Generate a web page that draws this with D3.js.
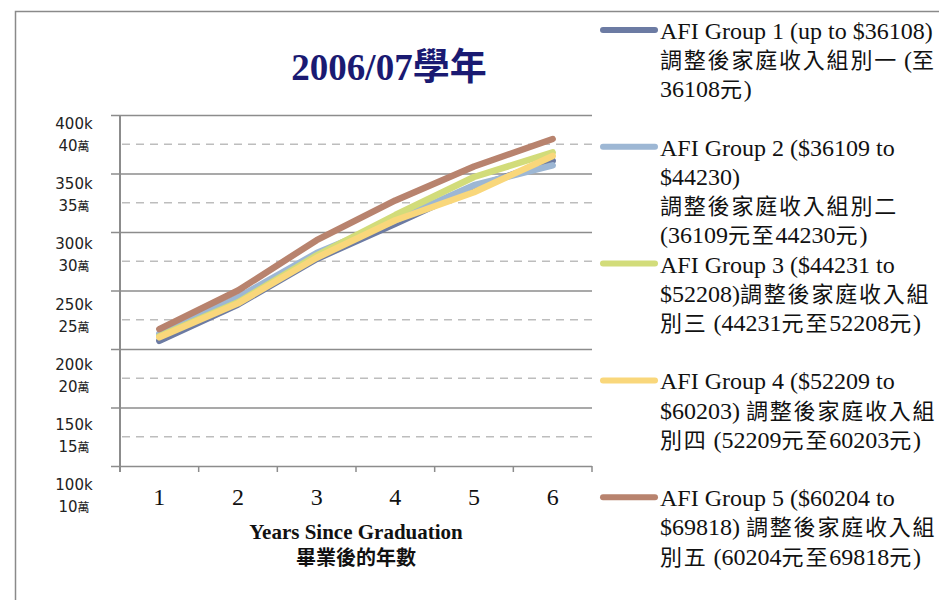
<!DOCTYPE html>
<html>
<head>
<meta charset="utf-8">
<script src="https://cdn.jsdelivr.net/npm/d3@7"></script>
<style>
  html, body { margin: 0; padding: 0; background: #fff; }
  svg { display: block; }
</style>
</head>
<body>
<svg id="chart" width="939" height="600"></svg>
<script>
// ---- Data ----
const categories = [1, 2, 3, 4, 5, 6];
const group1 = [207000, 238000, 277000, 307000, 338000, 361000];
const group2 = [213000, 244000, 282000, 310000, 340000, 357000];
const group3 = [211000, 240000, 280000, 314500, 347000, 368000];
const group4 = [210000, 239000, 278000, 310000, 334000, 365000];
const group5 = [217000, 250000, 293000, 327000, 356000, 379500];
const yTickValues = [400000, 350000, 300000, 250000, 200000, 150000, 100000];
const yTickLabelsEn = ["400k", "350k", "300k", "250k", "200k", "150k", "100k"];
const yTickLabelsZh = ["40萬", "35萬", "30萬", "25萬", "20萬", "15萬", "10萬"];
const titleText = "2006/07學年";
const xTitleEn = "Years Since Graduation";
const xTitleZh = "畢業後的年數";
const legendLabels = [
  ["AFI Group 1 (up to $36108)", "調整後家庭收入組別一 (至", "36108元)"],
  ["AFI Group 2 ($36109 to", "$44230)", "調整後家庭收入組別二", "(36109元至44230元)"],
  ["AFI Group 3 ($44231 to", "$52208)調整後家庭收入組", "別三 (44231元至52208元)"],
  ["AFI Group 4 ($52209 to", "$60203) 調整後家庭收入組", "別四 (52209元至60203元)"],
  ["AFI Group 5 ($60204 to", "$69818) 調整後家庭收入組", "別五 (60204元至69818元)"]
];
const seriesColors = ["#6c7ba3", "#9db7d4", "#d2dc7a", "#f9d77b", "#b8836e"];
const seriesValues = [group1, group2, group3, group4, group5];

// ---- Layout ----
const svg = d3.select("#chart");
const plot = { left: 120, right: 592, top: 115, bottom: 466 };

const x = d3.scaleBand().domain(categories).range([plot.left, plot.right]);
const y = d3.scaleLinear().domain([100000, 400000]).range([plot.bottom, plot.top]);
// label placement band (labels sit slightly offset from gridlines in the original)
const yLab = d3.scaleLinear().domain([400000, 100000]).range([124, 485]);

// Outer frame
svg.append("path")
  .attr("d", "M15.5,600 L15.5,11.5 L960,11.5")
  .attr("fill", "none").attr("stroke", "#8a8a8a").attr("stroke-width", 1.5);

// Title
svg.append("text")
  .attr("x", 389).attr("y", 80)
  .attr("text-anchor", "middle")
  .attr("font-family", "'Liberation Serif', 'Noto Sans CJK TC', serif")
  .attr("font-weight", "bold")
  .attr("font-size", 37)
  .attr("fill", "#1a1a72")
  .text(titleText);

// Minor dashed gridlines (midpoints)
const minorVals = d3.range(125000, 400000, 50000);
svg.append("g").selectAll("line").data(minorVals).join("line")
  .attr("x1", plot.left + 2).attr("x2", plot.right)
  .attr("y1", d => y(d)).attr("y2", d => y(d))
  .attr("stroke", "#bdbdbd").attr("stroke-width", 1.5)
  .attr("stroke-dasharray", "8,6");

// Major gridlines via axis
const yAxis = d3.axisLeft(y).tickValues(yTickValues)
  .tickSize(-(plot.right - plot.left)).tickFormat("");
const gy = svg.append("g").attr("transform", `translate(${plot.left},0)`).call(yAxis);
gy.select(".domain").remove();
gy.selectAll(".tick line").attr("stroke", "#8c8c8c").attr("stroke-width", 1.6)
  .attr("x1", -9);

// Bottom axis ticks at category boundaries
const boundaries = categories.map(c => x(c)).concat([plot.right]);
svg.append("g").selectAll("line").data(boundaries).join("line")
  .attr("x1", d => d).attr("x2", d => d)
  .attr("y1", plot.bottom).attr("y2", plot.bottom + 6)
  .attr("stroke", "#8c8c8c").attr("stroke-width", 1.5);

// Y axis line
svg.append("line")
  .attr("x1", plot.left).attr("x2", plot.left)
  .attr("y1", plot.top).attr("y2", plot.bottom + 6)
  .attr("stroke", "#8c8c8c").attr("stroke-width", 2);

// X tick labels
svg.append("g").selectAll("text").data(categories).join("text")
  .attr("x", d => x(d) + x.bandwidth() / 2)
  .attr("y", 505)
  .attr("text-anchor", "middle")
  .attr("font-family", "'Liberation Serif', serif")
  .attr("font-size", 24)
  .attr("fill", "#111")
  .text(d => d);

// Y tick labels (English + Chinese)
const yl = svg.append("g");
yl.selectAll("text.en").data(yTickValues).join("text")
  .attr("class", "en")
  .attr("x", 74).attr("y", d => yLab(d) + 5)
  .attr("text-anchor", "middle")
  .attr("font-family", "'DejaVu Sans', sans-serif")
  .attr("font-size", 15)
  .attr("fill", "#222")
  .text((d, i) => yTickLabelsEn[i]);
yl.selectAll("text.zh").data(yTickValues).join("text")
  .attr("class", "zh")
  .attr("x", 74).attr("y", d => yLab(d) + 27)
  .attr("text-anchor", "middle")
  .attr("font-family", "'DejaVu Sans', 'Noto Sans CJK TC', sans-serif")
  .attr("font-size", 15)
  .attr("fill", "#222")
  .each(function(d, i) {
    const lab = yTickLabelsZh[i];
    const t = d3.select(this);
    t.append("tspan").text(lab.slice(0, -1));
    t.append("tspan").attr("font-family", "'Noto Sans CJK TC', sans-serif")
      .attr("font-size", 12).text(lab.slice(-1));
  });

// X axis titles
svg.append("text")
  .attr("x", (plot.left + plot.right) / 2).attr("y", 539)
  .attr("text-anchor", "middle")
  .attr("font-family", "'Liberation Serif', serif")
  .attr("font-weight", "bold").attr("font-size", 21)
  .attr("fill", "#111")
  .text(xTitleEn);
svg.append("text")
  .attr("x", (plot.left + plot.right) / 2).attr("y", 565)
  .attr("text-anchor", "middle")
  .attr("font-family", "'Noto Sans CJK TC', sans-serif")
  .attr("font-weight", "bold").attr("font-size", 20)
  .attr("fill", "#111")
  .text(xTitleZh);

// Lines
const line = d3.line()
  .x((d, i) => x(categories[i]) + x.bandwidth() / 2)
  .y(d => y(d));
svg.append("g").selectAll("path").data(seriesValues).join("path")
  .attr("d", d => line(d))
  .attr("fill", "none")
  .attr("stroke", (d, i) => seriesColors[i])
  .attr("stroke-width", 6.5)
  .attr("stroke-linecap", "round")
  .attr("stroke-linejoin", "round");

// Legend
const lg = svg.append("g");
legendLabels.forEach((lines, i) => {
  const y0 = 30 + i * 116.8;
  lg.append("line")
    .attr("x1", 603).attr("x2", 655)
    .attr("y1", y0).attr("y2", y0)
    .attr("stroke", seriesColors[i]).attr("stroke-width", 6)
    .attr("stroke-linecap", "round");
  lines.forEach((txt, k) => {
    const t = lg.append("text")
      .attr("x", 660).attr("y", y0 + 9 + k * 29.2)
      .attr("font-family", "'Liberation Serif', 'Noto Sans CJK TC', serif")
      .attr("font-size", 24)
      .attr("fill", "#111");
    txt.split(/([\u4e00-\u9fff]+)/).filter(s => s.length).forEach(part => {
      const isCJK = /[\u4e00-\u9fff]/.test(part);
      t.append("tspan")
        .attr("font-family", isCJK ? "'Noto Sans CJK TC', sans-serif" : "'Liberation Serif', serif")
        .attr("font-size", isCJK ? 22 : 24)
        .attr("letter-spacing", isCJK ? 1.8 : 0)
        .text(part);
    });
  });
});
</script>
</body>
</html>
